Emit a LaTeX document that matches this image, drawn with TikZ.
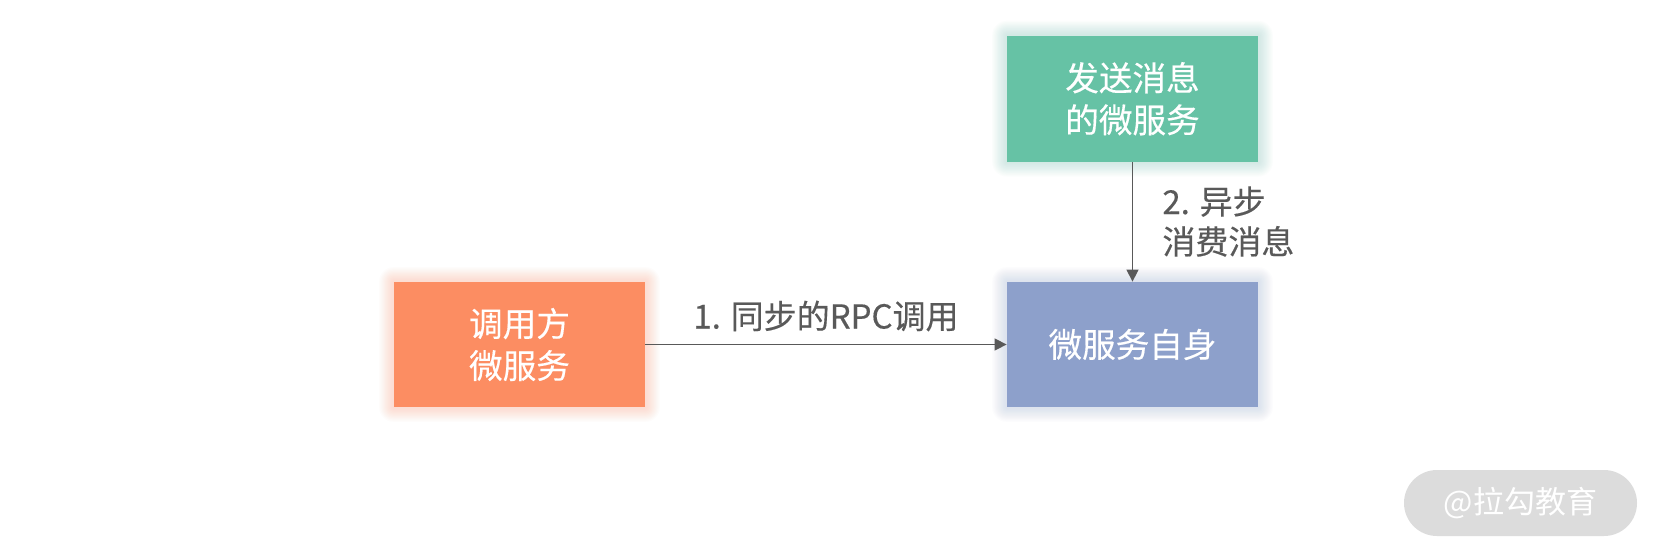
\documentclass[tikz,border=0pt]{standalone}
\usepackage{fontspec}
\setmainfont{Noto Sans CJK SC}[AutoFakeBold=0.35]
\usetikzlibrary{arrows.meta}
\definecolor{cOrange}{HTML}{FC8D62}
\definecolor{cGreen}{HTML}{66C2A5}
\definecolor{cBlue}{HTML}{8DA0CB}
\definecolor{cText}{HTML}{595959}
\definecolor{cMark}{HTML}{DCDCDC}
\tikzset{
  box/.style={minimum width=125.5pt, minimum height=62.5pt, inner sep=0pt, align=center,
    text=white, font=\fontsize{16.8pt}{21pt}\selectfont\bfseries},
  lbl/.style={text=cText, font=\fontsize{16.5pt}{20pt}\selectfont\bfseries, inner sep=0pt},
  conn/.style={draw=cText, line width=0.7pt, -{Triangle[length=6pt,width=6pt]}},
}
\newcommand{\glowbox}[2]{%
  \foreach \g in {1,...,12}{%
    \fill[#2, opacity=0.025, rounded corners=\g*0.6pt] ([xshift=-\g*0.6pt, yshift=\g*0.6pt]#1.north west) rectangle ([xshift=\g*0.6pt, yshift=-\g*0.6pt]#1.south east);
  }%
}
\begin{document}
\begin{tikzpicture}[x=0.5pt, y=-0.5pt]
\useasboundingbox[fill=white] (0,0) rectangle (1660,558);
% node positions
\path (519.5,344.5) node[box] (caller) {};
\path (1132.5,344.5) node[box] (self) {};
\path (1132.5,98.7) node[box, minimum height=63pt] (sender) {};
\glowbox{caller}{cOrange}
\glowbox{self}{cBlue}
\glowbox{sender}{cGreen}
\node[box, fill=cOrange] at (caller) {调用方\\微服务};
\node[box, fill=cBlue] at (self) {微服务自身};
\node[box, fill=cGreen, minimum height=63pt] at (sender) {发送消息\\的微服务};
% connectors
\draw[conn] (caller.east) -- (self.west);
\draw[conn] (sender.south) -- (self.north);
\node[lbl] (l1) at (826,316) {1. 同步的RPC调用};
\node[lbl, anchor=west, align=left] (l2) at (1162,221.5) {2. 异步\\消费消息};
% watermark
\node[fill=cMark, rounded corners=16.5pt, minimum width=116.5pt, minimum height=33pt, inner sep=0pt,
  text=white, font=\fontsize{15.5pt}{18pt}\selectfont] (wm) at (1520.5,503) {@拉勾教育};
\end{tikzpicture}
\end{document}
